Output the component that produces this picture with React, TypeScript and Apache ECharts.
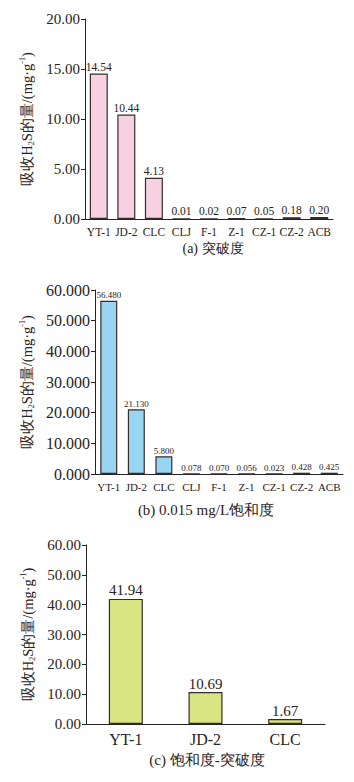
import React, { useEffect, useRef } from "react";
import * as echarts from "echarts";

const catsAB = ["YT-1", "JD-2", "CLC", "CLJ", "F-1", "Z-1", "CZ-1", "CZ-2", "ACB"];
const valuesA = [14.54, 10.44, 4.13, 0.01, 0.02, 0.07, 0.05, 0.18, 0.2];
const valuesB = [56.48, 21.13, 5.8, 0.078, 0.07, 0.056, 0.023, 0.428, 0.425];
const catsC = ["YT-1", "JD-2", "CLC"];
const valuesC = [41.94, 10.69, 1.67];
const subtitles = ["(a) 突破度", "(b) 0.015 mg/L饱和度", "(c) 饱和度-突破度"];

const SERIF = "Liberation Serif";
const INK = "#2a2222";
const EDGE = "#3a2b2b";

const yName = "{a|吸收H}{sub|2}{a|S的量/(mg·g}{sup|-1}{a|)}";
const yNameRich = {
  a: { fontFamily: SERIF, fontSize: 14.5, color: INK },
  sub: { fontFamily: SERIF, fontSize: 8, color: INK, padding: [9, 0, 0, 0] },
  sup: { fontFamily: SERIF, fontSize: 8, color: INK, padding: [0, 0, 9, 0] },
};

export default function App() {
  const ref = useRef<HTMLDivElement>(null);
  useEffect(() => {
    if (!ref.current) return;
    const chart = echarts.init(ref.current, null, { renderer: "svg" });
    const grids = [
      { left: 85, top: 19, width: 248, height: 200 },
      { left: 95, top: 290, width: 248, height: 184 },
      { left: 86, top: 545, width: 239, height: 179 },
    ];
    const yCfg = [
      { max: 20, interval: 5, dec: 2, fs: 15, gap: 48 },
      { max: 60, interval: 10, dec: 3, fs: 16, gap: 58 },
      { max: 60, interval: 10, dec: 2, fs: 15, gap: 49 },
    ];
    const xFs = [11.5, 11, 16];
    const labFs = [11.5, 9, 15];
    const cats = [catsAB, catsAB, catsC];
    const vals = [valuesA, valuesB, valuesC];
    const colors = ["#f7d1e2", "#98d5f3", "#d9e483"];
    const barW = [18, 17, 34];
    const decs = [2, 3, 2];

    const option: any = {
      animation: false,
      backgroundColor: "#ffffff",
      textStyle: { fontFamily: SERIF },
      grid: grids,
      xAxis: grids.map((_, i) => ({
        type: "category",
        gridIndex: i,
        data: cats[i],
        axisLine: { lineStyle: { color: INK, width: 1 } },
        axisTick: { show: false },
        axisLabel: { color: INK, fontFamily: SERIF, fontSize: xFs[i], margin: 7, interval: 0 },
      })),
      yAxis: yCfg.map((c, i) => ({
        type: "value",
        gridIndex: i,
        min: 0,
        max: c.max,
        interval: c.interval,
        name: yName,
        nameLocation: "middle",
        nameRotate: 90,
        nameGap: c.gap,
        nameTextStyle: { fontFamily: SERIF, rich: yNameRich },
        splitLine: { show: false },
        axisLine: { show: true, lineStyle: { color: INK, width: 1 } },
        axisTick: { show: true, length: 4, lineStyle: { color: INK } },
        axisLabel: {
          color: INK,
          fontFamily: SERIF,
          fontSize: c.fs,
          margin: 5,
          formatter: (v: number) => v.toFixed(c.dec),
        },
      })),
      series: vals.map((v, i) => ({
        type: "bar",
        xAxisIndex: i,
        yAxisIndex: i,
        data: v,
        barWidth: barW[i],
        itemStyle: { color: colors[i], borderColor: EDGE, borderWidth: 1.2 },
        label: {
          show: true,
          position: "top",
          distance: 1,
          color: INK,
          fontFamily: SERIF,
          fontSize: labFs[i],
          formatter: (p: any) => Number(p.value).toFixed(decs[i]),
        },
      })),
      graphic: [
        { type: "text", x: 213, y: 248, style: { text: subtitles[0], fontFamily: SERIF, fontSize: 14, fill: INK, align: "center", verticalAlign: "middle" } },
        { type: "text", x: 206, y: 510, style: { text: subtitles[1], fontFamily: SERIF, fontSize: 15, fill: INK, align: "center", verticalAlign: "middle" } },
        { type: "text", x: 207, y: 760, style: { text: subtitles[2], fontFamily: SERIF, fontSize: 15, fill: INK, align: "center", verticalAlign: "middle" } },
      ],
    };
    chart.setOption(option);
    return () => chart.dispose();
  }, []);
  return (
    <div
      ref={ref}
      style={{ position: "absolute", left: 0, top: 0, width: 354, height: 782, background: "#fff" }}
    />
  );
}
